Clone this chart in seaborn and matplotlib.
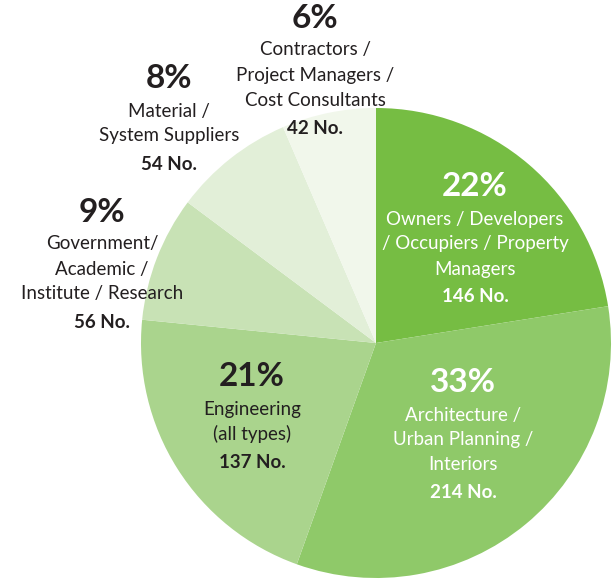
import matplotlib
matplotlib.use("Agg")
import matplotlib.pyplot as plt
import seaborn as sns

# Survey respondents by sector (counts)
sectors = [
    "Owners / Developers\n/ Occupiers / Property\nManagers",
    "Architecture /\nUrban Planning /\nInteriors",
    "Engineering\n(all types)",
    "Government/\nAcademic /\nInstitute / Research",
    "Material /\nSystem Suppliers",
    "Contractors /\nProject Managers /\nCost Consultants",
]
counts = [146, 214, 137, 56, 54, 42]
colors = ["#76bd43", "#8fc969", "#aad48d", "#c8e2b5", "#e2efd8", "#f1f7eb"]
text_colors = ["white", "white", "#231f20", "#231f20", "#231f20", "#231f20"]

# label anchor (pixel centre of the percentage text in a 613x579 canvas)
label_pos = [(475, 187), (463, 383), (252, 377), (102, 212), (169, 79), (315, 18)]

W, H = 613, 579
sns.set_theme(style="white")
plt.rcParams["font.family"] = ["Lato", "DejaVu Sans"]

fig = plt.figure(figsize=(W / 100, H / 100), dpi=100)
cx, cy, r = 376, 343, 235
ax = fig.add_axes([(cx - r) / W, (H - cy - r) / H, 2 * r / W, 2 * r / H])
ax.pie(counts, colors=colors, startangle=90, counterclock=False,
       wedgeprops=dict(linewidth=0))
ax.set_xlim(-1, 1)
ax.set_ylim(-1, 1)
ax.set_aspect("equal")
ax.axis("off")

total = sum(counts)


def put(x, y, s, **kw):
    fig.text(x / W, 1 - y / H, s, ha="center", va="center", **kw)


for name, n, tc, (x, y) in zip(sectors, counts, text_colors, label_pos):
    pct = round(100 * n / total)
    put(x, y, f"{pct}%", fontsize=24, fontweight="bold", color=tc)
    yy = y + 32
    for ln in name.split("\n"):
        put(x, yy, ln, fontsize=13.5, color=tc)
        yy += 25
    put(x, yy + 3, f"{n} No.", fontsize=13.5, fontweight="bold", color=tc)

fig.savefig("out.png", dpi=100)
